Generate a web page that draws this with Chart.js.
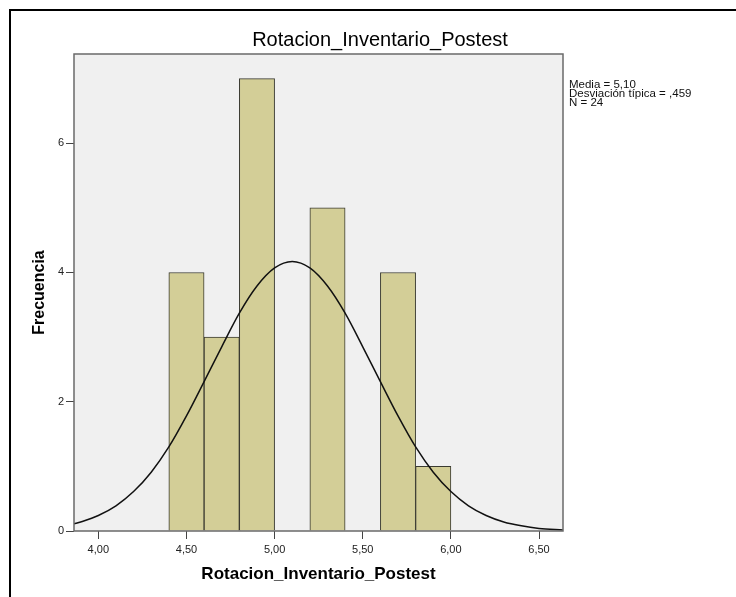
<!DOCTYPE html>
<html>
<head>
<meta charset="utf-8">
<script src="https://cdn.jsdelivr.net/npm/chart.js@4.4.1/dist/chart.umd.min.js"></script>
<style>
	body { margin: 0; background: #fff; }
	canvas { display: block; }
</style>
</head>
<body>
<canvas id="histo" width="736" height="597"></canvas>
<script>
// Histogram data
var binCenters = [4.5, 4.7, 4.9, 5.3, 5.7, 5.9];
var binCounts = [4, 3, 7, 5, 4, 1];

// Normal curve
var curveX = [3.862, 3.9, 4.0, 4.1, 4.2, 4.3, 4.4, 4.5, 4.6, 4.7, 4.8, 4.9, 5.0, 5.1, 5.2, 5.3, 5.4, 5.5, 5.6, 5.7, 5.8, 5.9, 6.0, 6.1, 6.2, 6.3, 6.4, 6.5, 6.636];
var curveY = [0.11, 0.14, 0.24, 0.39, 0.61, 0.91, 1.30, 1.78, 2.31, 2.85, 3.37, 3.79, 4.07, 4.17, 4.07, 3.79, 3.37, 2.85, 2.31, 1.78, 1.30, 0.91, 0.61, 0.39, 0.24, 0.14, 0.08, 0.04, 0.015];

// Axis ticks
var xTicks = [4.0, 4.5, 5.0, 5.5, 6.0, 6.5];
var yTicks = [0, 2, 4, 6];

var statLines = ["Media = 5,10", "Desviación típica = ,459", "N = 24"];

var barData = binCenters.map(function (c, i) { return { x: c, y: binCounts[i] }; });
var curveData = curveX.map(function (c, i) { return { x: c, y: curveY[i] }; });

// background, frame and stats text
var spssLook = {
	id: 'spssLook',
	beforeDraw: function (chart) {
		var ctx = chart.ctx, a = chart.chartArea;
		ctx.save();
		ctx.fillStyle = '#fff';
		ctx.fillRect(0, 0, chart.width, chart.height);
		ctx.fillStyle = '#f0f0f0';
		ctx.fillRect(a.left, a.top, a.right - a.left, a.bottom - a.top);
		ctx.restore();
	},
	afterDraw: function (chart) {
		var ctx = chart.ctx, a = chart.chartArea;
		ctx.save();
		ctx.strokeStyle = '#6a6a6a';
		ctx.lineWidth = 1.5;
		ctx.strokeRect(a.left, a.top, a.right - a.left, a.bottom - a.top);
		// outer frame
		ctx.strokeStyle = '#000';
		ctx.lineWidth = 2;
		ctx.beginPath();
		ctx.moveTo(10, chart.height + 2);
		ctx.lineTo(10, 10);
		ctx.lineTo(chart.width + 2, 10);
		ctx.stroke();
		// stats
		ctx.fillStyle = '#111';
		ctx.font = '11.5px "Liberation Sans", Arial, sans-serif';
		ctx.textBaseline = 'alphabetic';
		for (var i = 0; i < statLines.length; i++) {
			ctx.fillText(statLines[i], a.right + 6, 88 + i * 9);
		}
		ctx.restore();
	}
};

var histo = new Chart(document.getElementById("histo").getContext("2d"), {
	type: 'bar',
	data: {
		datasets: [{
			type: 'line',
			data: curveData,
			borderColor: '#111',
			borderWidth: 1.5,
			pointRadius: 0,
			cubicInterpolationMode: 'monotone',
			fill: false,
			order: 0
		}, {
			type: 'bar',
			data: barData,
			backgroundColor: '#d3ce97',
			borderColor: '#3a3a30',
			borderWidth: 1,
			borderSkipped: 'start',
			barPercentage: 1,
			categoryPercentage: 1,
			order: 1
		}]
	},
	options: {
		responsive: false,
		animation: false,
		layout: { padding: { left: 24, top: 0, right: 0, bottom: 0 } },
		plugins: {
			legend: { display: false },
			tooltip: { enabled: false },
			title: {
				display: true,
				text: 'Rotacion_Inventario_Postest',
				color: '#000',
				font: { family: '"Liberation Sans", Arial, sans-serif', size: 20, weight: 'normal' },
				padding: { top: 28, bottom: 2 }
			}
		},
		scales: {
			x: {
				type: 'linear',
				min: 3.862,
				max: 6.636,
				offset: false,
				afterBuildTicks: function (s) { s.ticks = xTicks.map(function (v) { return { value: v }; }); },
				afterFit: function (s) { s.height = 66; },
				grid: { drawOnChartArea: false, drawTicks: true, tickLength: 8, color: '#444', offset: false },
				border: { display: false },
				ticks: {
					color: '#222',
					padding: 4,
					maxRotation: 0,
					font: { family: '"Liberation Sans", Arial, sans-serif', size: 11 },
					callback: function (v) { return v.toFixed(2).replace('.', ','); }
				},
				title: {
					display: true,
					text: 'Rotacion_Inventario_Postest',
					color: '#000',
					font: { family: '"Liberation Sans", Arial, sans-serif', size: 17, weight: 'bold' },
					padding: { top: 0, bottom: 12 }
				}
			},
			y: {
				min: 0,
				max: 7.38,
				afterBuildTicks: function (s) { s.ticks = yTicks.map(function (v) { return { value: v }; }); },
				afterFit: function (s) { s.width = 50; },
				grid: { drawOnChartArea: false, drawTicks: true, tickLength: 8, color: '#444' },
				border: { display: false },
				ticks: {
					color: '#222',
					padding: 2,
					font: { family: '"Liberation Sans", Arial, sans-serif', size: 11 }
				},
				title: {
					display: true,
					text: 'Frecuencia',
					color: '#000',
					font: { family: '"Liberation Sans", Arial, sans-serif', size: 16, weight: 'bold' },
					padding: { top: 6, bottom: 0 }
				}
			},
			side: {
				type: 'linear',
				position: 'right',
				display: true,
				afterFit: function (s) { s.width = 173; },
				grid: { display: false },
				border: { display: false },
				ticks: { display: false }
			}
		}
	},
	plugins: [spssLook]
});
</script>
</body>
</html>
